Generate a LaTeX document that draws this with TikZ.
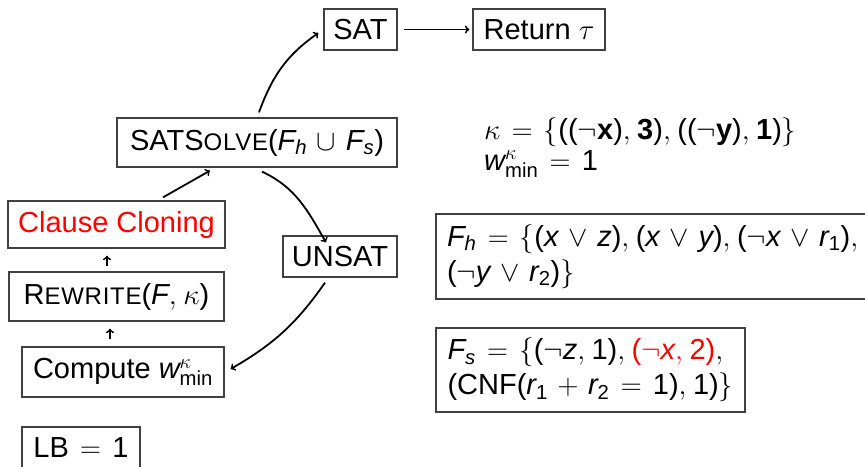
\RequirePackage{fix-cm}
\documentclass[tikz,border=0pt]{standalone}
\usepackage{fontspec}
\setmainfont{Liberation Sans}
\setmathrm{Liberation Sans}
\usetikzlibrary{calc}
\DeclareSymbolFont{sfop}{TU}{\rmdefault}{m}{n}
\AtBeginDocument{%
  \Umathcode`0="7 \symsfop `0 \Umathcode`1="7 \symsfop `1
  \Umathcode`2="7 \symsfop `2 \Umathcode`3="7 \symsfop `3
  \Umathcode`4="7 \symsfop `4 \Umathcode`5="7 \symsfop `5
  \Umathcode`6="7 \symsfop `6 \Umathcode`7="7 \symsfop `7
  \Umathcode`8="7 \symsfop `8 \Umathcode`9="7 \symsfop `9
  \Umathcode`(="4 \symsfop `( \Umathcode`)="5 \symsfop `)
  \thinmuskip=4mu \medmuskip=6mu plus 2mu minus 4mu \thickmuskip=7mu plus 5mu}
\newcommand{\mi}[1]{\mathit{#1}}
\newcommand{\fsc}[1]{{\fontsize{24}{28}\selectfont\addfontfeatures{LetterSpace=3}#1}}
\begin{document}
\begin{tikzpicture}[x=1pt,y=1pt,
  font=\fontsize{29}{35}\selectfont,
  box/.style={draw=black!75,line width=1.3pt,inner sep=0pt,align=center},
  arr/.style={->,>=to,line width=1.8pt}]
\useasboundingbox (0,0) rectangle (865,-466);
\clip (0,0) rectangle (865,-466);

\node[box,minimum width=73pt,minimum height=41pt] (sat) at (360.5,-29.5) {SAT};
\node[box,minimum width=132pt,minimum height=41pt] (ret) at (539,-29.5) {Return $\tau$};
\node[box,minimum width=280pt,minimum height=49pt] (solve) at (257,-142.5) {SATS\fsc{OLVE}$(\mi{F}_{\mi{h}}\cup \mi{F}_{\mi{s}})$};
\node[box,minimum width=217pt,minimum height=47pt,text=red] (clone) at (116.5,-224.5) {Clause Cloning};
\node[box,minimum width=215pt,minimum height=49pt] (rewrite) at (116.5,-296.5) {R\fsc{EWRITE}$(\mi{F},\kappa)$};
\node[box,minimum width=202pt,minimum height=50pt] (compute) at (123,-372) {Compute $\mi{w}^{\kappa}_{\mathrm{min}}$};
\node[box,minimum width=118pt,minimum height=41pt] (lb) at (81,-447.5) {$\mathrm{LB}=1$};
\node[box,minimum width=114pt,minimum height=41pt] (unsat) at (340,-256.5) {UNSAT};

\node[anchor=base west,inner sep=0pt] (kappa) at (484,-139) {$\kappa=\{((\neg\mathbf{x}),\mathbf{3}),((\neg\mathbf{y}),\mathbf{1})\}$};
\node[anchor=base west,inner sep=0pt] (wmin) at (484,-170) {$\mi{w}^{\kappa}_{\mathrm{min}}=1$};

\node[box,minimum width=432pt,minimum height=85pt,text width=410pt,align=left] (fh) at (652,-256.5)
  {\mbox{$\mi{F}_{\mi{h}}=\{(\mi{x}\vee \mi{z}),(\mi{x}\vee \mi{y}),(\neg \mi{x}\vee \mi{r}_1),$}\\
   \mbox{$(\neg \mi{y}\vee \mi{r}_2)\}$}};
\node[box,minimum width=309pt,minimum height=84pt,text width=286pt,align=left] (fs) at (590.5,-370)
  {\mbox{$\mi{F}_{\mi{s}}=\{(\neg \mi{z},1),\textcolor{red}{(\neg \mi{x},2)},$}\\
   \mbox{$(\mathrm{CNF}(\mi{r}_1+\mi{r}_2=1),1)\}$}};

\draw[arr,shorten <=6pt,shorten >=3pt] (sat) -- (ret);
\draw[arr] ($(solve.north)+(2,5)$) to[out=70,in=215] ($(sat.west)+(-5,-3.5)$);
\draw[arr] ($(solve.south)+(5,-4)$) to[out=-25,in=120] ($(unsat.north)+(-14,-7)$);
\draw[arr] ($(unsat.south)+(-15,-5)$) to[out=-125,in=30] ($(compute.east)+(6,3)$);
\draw[arr] ($(clone.north)+(46.5,3)$) -- ($(solve.south)+(-47,-3)$);
\draw[arr] ($(rewrite.north)+(-9.5,5)$) -- ($(clone.south)+(-9.5,-7)$);
\draw[arr] ($(compute.north)+(-13,7)$) -- ($(rewrite.south)+(-6.5,-7)$);
\end{tikzpicture}
\end{document}
